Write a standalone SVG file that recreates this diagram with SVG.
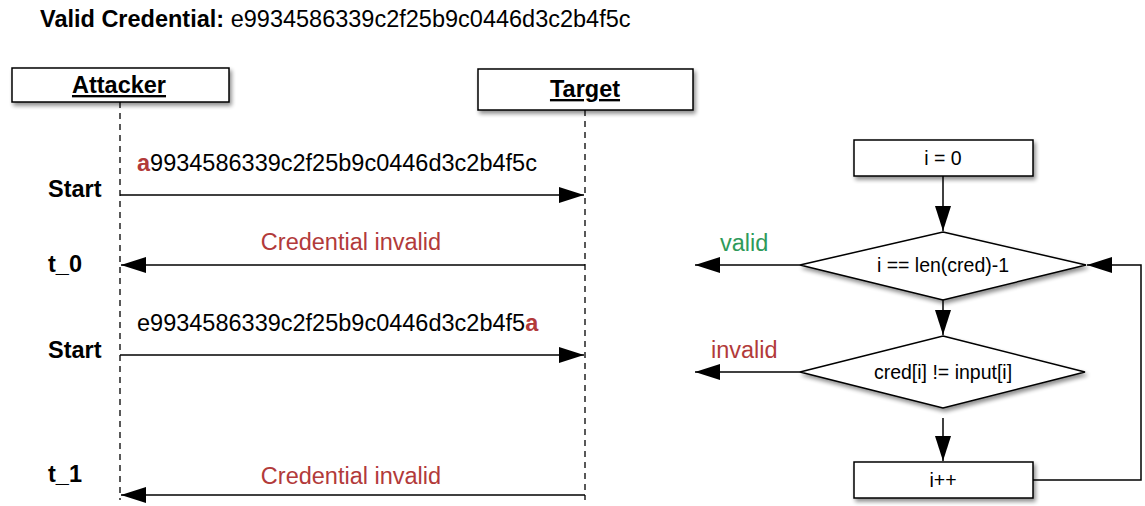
<svg xmlns="http://www.w3.org/2000/svg" width="1145" height="506" viewBox="0 0 1145 506">
<style>
text{font-family:"Liberation Sans",Arial,sans-serif;fill:#000}
.b{font-weight:bold}
.t{font-size:23.5px}
.s{font-size:19.5px}
.red{fill:#b23a3a}
.grn{fill:#2e9a5a}
.box{fill:#fff;stroke:#000;stroke-width:1.5;filter:url(#sh)}
.life{stroke:#000;stroke-width:1.3;stroke-dasharray:6,5;fill:none}
.ln{stroke:#000;stroke-width:1.5;fill:none}
</style>
<defs>
<filter id="sh" x="-10%" y="-20%" width="130%" height="150%">
<feGaussianBlur in="SourceAlpha" stdDeviation="2"/>
<feOffset dx="2" dy="3" result="o"/>
<feComponentTransfer><feFuncA type="linear" slope="0.45"/></feComponentTransfer>
<feMerge><feMergeNode/><feMergeNode in="SourceGraphic"/></feMerge>
</filter>
<marker id="ah" markerWidth="25" markerHeight="16" refX="25" refY="8" orient="auto" markerUnits="userSpaceOnUse">
<path d="M0,0 L25,8 L0,16 Z" fill="#000"/>
</marker>
</defs>

<text x="40" y="27" class="t"><tspan class="b">Valid Credential:</tspan> e9934586339c2f25b9c0446d3c2b4f5c</text>

<g id="attacker">
<rect class="box" x="12" y="68" width="217" height="34"/>
<text x="119" y="93" class="b t" text-anchor="middle" text-decoration="underline">Attacker</text>
</g>
<g id="target">
<rect class="box" x="478" y="69" width="215" height="41"/>
<text x="585" y="97" class="b t" text-anchor="middle" text-decoration="underline">Target</text>
</g>

<g id="labels">
<text x="48" y="197" class="t b">Start</text>
<text x="48" y="272" class="t b">t_0</text>
<text x="48" y="358" class="t b">Start</text>
<text x="48" y="482" class="t b">t_1</text>
<text x="137" y="171" class="t"><tspan class="b red">a</tspan>9934586339c2f25b9c0446d3c2b4f5c</text>
<text x="351" y="250" class="t red" text-anchor="middle">Credential invalid</text>
<text x="137" y="331" class="t">e9934586339c2f25b9c0446d3c2b4f5<tspan class="b red">a</tspan></text>
<text x="351" y="484" class="t red" text-anchor="middle">Credential invalid</text>
<text x="720" y="251" class="t grn">valid</text>
<text x="711" y="358" class="t red">invalid</text>
</g>

<g id="init">
<rect class="box" x="854" y="140" width="179" height="36"/>
<text x="943" y="165" class="s" text-anchor="middle">i = 0</text>
</g>
<g id="check-len">
<polygon class="box" points="943,232 1086,265 943,300 800,265"/>
<text x="943" y="272" class="s" text-anchor="middle">i == len(cred)-1</text>
</g>
<g id="check-char">
<polygon class="box" points="943,336 1085,372 943,408 800,372"/>
<text x="943" y="379" class="s" text-anchor="middle">cred[i] != input[i]</text>
</g>
<g id="incr">
<rect class="box" x="854" y="462" width="179" height="36"/>
<text x="943" y="487" class="s" text-anchor="middle">i++</text>
</g>

<g id="connectors">
<line class="life" x1="120" y1="102" x2="120" y2="500"/>
<line class="life" x1="585" y1="110" x2="585" y2="500"/>
<line class="ln" x1="120" y1="195" x2="584" y2="195" marker-end="url(#ah)"/>
<line class="ln" x1="585" y1="265" x2="121" y2="265" marker-end="url(#ah)"/>
<line class="ln" x1="120" y1="355" x2="584" y2="355" marker-end="url(#ah)"/>
<line class="ln" x1="585" y1="495" x2="121" y2="495" marker-end="url(#ah)"/>
<line class="ln" x1="943" y1="176" x2="943" y2="231" marker-end="url(#ah)"/>
<line class="ln" x1="943" y1="300" x2="943" y2="335" marker-end="url(#ah)"/>
<line class="ln" x1="943" y1="418" x2="943" y2="461" marker-end="url(#ah)"/>
<line class="ln" x1="800" y1="265" x2="695" y2="265" marker-end="url(#ah)"/>
<line class="ln" x1="800" y1="372" x2="695" y2="372" marker-end="url(#ah)"/>
<polyline class="ln" points="1033,480 1141,480 1141,265 1087,265" marker-end="url(#ah)"/>
</g>
</svg>
